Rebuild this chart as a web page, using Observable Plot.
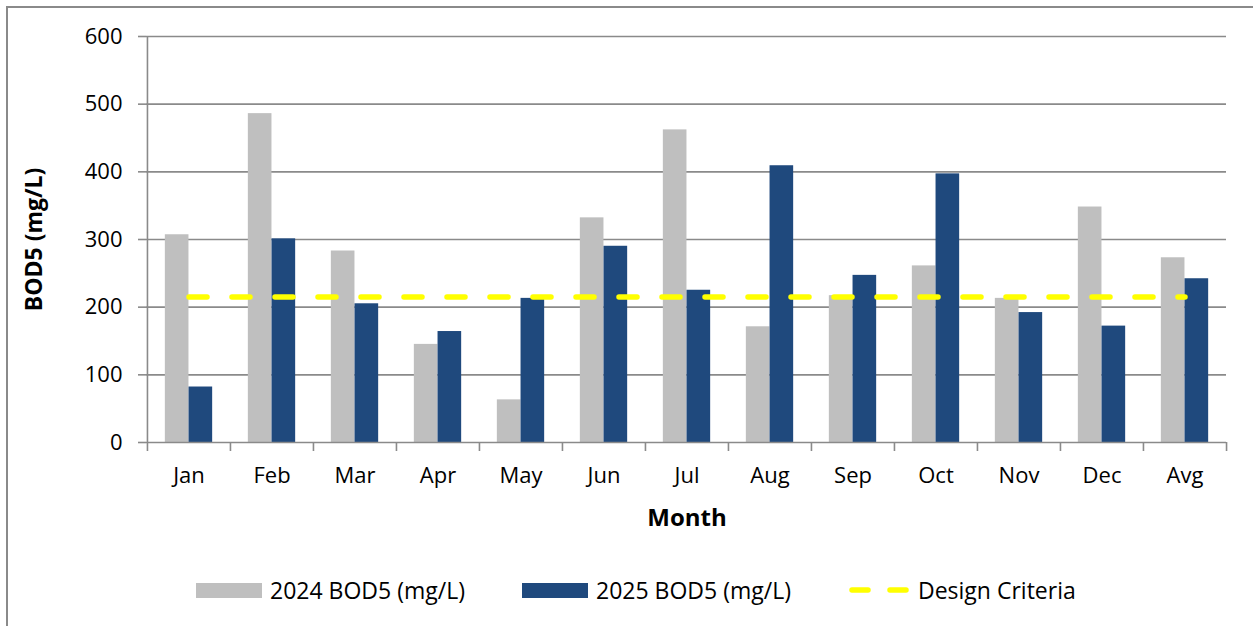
<!DOCTYPE html>
<html>
<head>
<meta charset="utf-8">
<script src="https://cdn.jsdelivr.net/npm/d3@7"></script>
<script src="https://cdn.jsdelivr.net/npm/@observablehq/plot@0.6"></script>
<style>
  html, body { margin: 0; padding: 0; background: #fff; }
  #wrap { position: relative; width: 1253px; height: 626px; overflow: hidden; font-family: "Open Sans", "Noto Sans", sans-serif; }
  #frame { position: absolute; left: 6px; top: 6px; width: 1260px; height: 640px; border-left: 2px solid #8a8a8a; border-top: 2px solid #8a8a8a; }
  #chart { position: absolute; left: 0; top: 0; }
  #legend { position: absolute; top: 575px; left: 0; width: 1253px; height: 30px; font-size: 23px; color: #000; }
  .item { position: absolute; top: 0; display: flex; align-items: center; height: 30px; white-space: nowrap; }
  .sw { display: inline-block; width: 66px; height: 15px; margin-right: 8px; }
</style>
</head>
<body>
<div id="wrap">
  <div id="frame"></div>
  <div id="chart"></div>
  <div id="legend"></div>
</div>
<script>
const months = ["Jan","Feb","Mar","Apr","May","Jun","Jul","Aug","Sep","Oct","Nov","Dec","Avg"];
const bod2024 = [307, 486, 283, 145, 63, 332, 462, 171, 217, 261, 213, 348, 273];
const bod2025 = [82, 301, 205, 164, 213, 290, 225, 409, 247, 397, 192, 172, 242];
const designCriteria = 215;
const yTicks = [0, 100, 200, 300, 400, 500, 600];
const seriesNames = ["2024 BOD5 (mg/L)", "2025 BOD5 (mg/L)", "Design Criteria"];

const gray = "#BFBFBF", blue = "#1F497D", yellow = "#FFFF00", gridColor = "#8a8a8a";

const W = 1253, H = 540;
const mL = 146, mR = 27, mT = 36, mB = 98;
const step = (W - mL - mR) / months.length;
const barW = 23.7;

const rows2024 = months.map((m, i) => ({month: m, value: bod2024[i]}));
const rows2025 = months.map((m, i) => ({month: m, value: bod2025[i]}));
const rowsLine = months.map(m => ({month: m, value: designCriteria}));

const chart = Plot.plot({
  width: W, height: H,
  marginLeft: mL, marginRight: mR, marginTop: mT, marginBottom: mB,
  style: {fontFamily: "'Open Sans', 'Noto Sans', sans-serif", fontSize: "22px", color: "#000", background: "transparent"},
  x: {type: "band", domain: months, padding: 0, label: null},
  y: {domain: [0, 600], label: null},
  marks: [
    Plot.ruleY(yTicks.filter(d => d > 0), {stroke: gridColor, strokeWidth: 1.6, strokeOpacity: 1}),
    Plot.barY(rows2024, {x: "month", y: "value", fill: gray, insetLeft: step / 2 - barW, insetRight: step / 2}),
    Plot.barY(rows2025, {x: "month", y: "value", fill: blue, insetLeft: step / 2, insetRight: step / 2 - barW}),
    Plot.lineY(rowsLine, {x: "month", y: "value", stroke: yellow, strokeWidth: 5.5, strokeDasharray: "18,25", strokeLinecap: "round"}),
    // y axis
    Plot.ruleX([0], {x: () => months[0], dx: -step / 2, y1: 0, y2: 600, stroke: gridColor, strokeWidth: 1.6}),
    Plot.axisY({ticks: yTicks, tickSize: 8, tickPadding: 16, fontSize: 22, stroke: gridColor, strokeWidth: 1.6, label: null}),
    // x axis line
    Plot.ruleY([0], {stroke: gridColor, strokeWidth: 1.6}),
    // x category boundary ticks
    Plot.axisX({tickSize: 9, tickFormat: () => "", dx: -step / 2, stroke: gridColor, strokeWidth: 1.6, label: null}),
    Plot.axisX({ticks: ["Avg"], tickSize: 9, tickFormat: () => "", dx: step / 2, stroke: gridColor, strokeWidth: 1.6, label: null}),
    // x labels
    Plot.axisX({tickSize: 0, tickPadding: 25, fontSize: 22, label: null}),
    // axis titles
    Plot.text(["Month"], {x: () => "Jul", y: 0, dy: 76, text: d => d, fontSize: 24, fontWeight: "bold", fill: "#000"}),
    Plot.text(["BOD5 (mg/L)"], {frameAnchor: "left", textAnchor: "middle", dx: -112, text: d => d, rotate: -90, fontSize: 23, fontWeight: "bold", fill: "#000"})
  ]
});
document.getElementById("chart").appendChild(chart);

const legend = document.getElementById("legend");
const items = [
  {name: seriesNames[0], left: 196, sw: `<span class="sw" style="background:${gray}"></span>`},
  {name: seriesNames[1], left: 522, sw: `<span class="sw" style="background:${blue}"></span>`},
  {name: seriesNames[2], left: 848, sw: `<svg width="62" height="12" style="margin-right:8px"><line x1="4" y1="6" x2="58" y2="6" stroke="${yellow}" stroke-width="5.5" stroke-linecap="round" stroke-dasharray="16,22"/></svg>`}
];
for (const it of items) {
  const d = document.createElement("div");
  d.className = "item";
  d.style.left = it.left + "px";
  d.innerHTML = it.sw + `<span>${it.name}</span>`;
  legend.appendChild(d);
}
</script>
</body>
</html>
